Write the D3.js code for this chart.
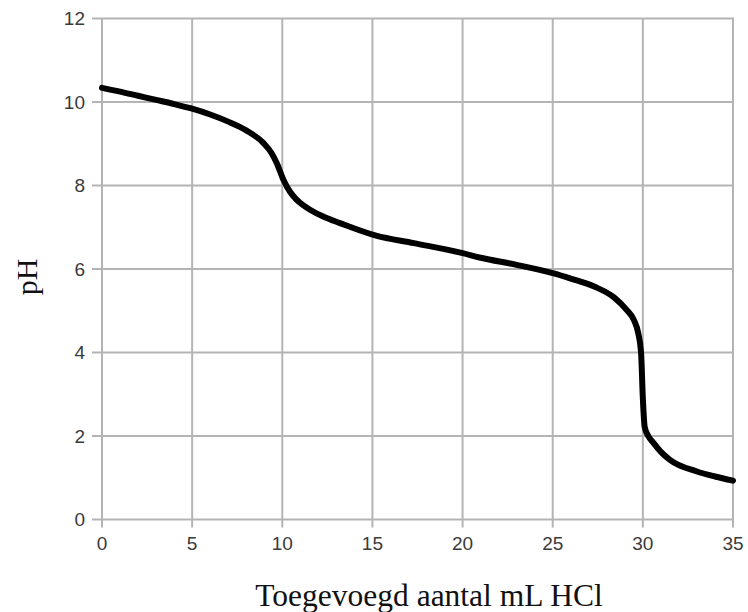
<!DOCTYPE html>
<html>
<head>
<meta charset="utf-8">
<script src="https://cdn.jsdelivr.net/npm/d3@7"></script>
<style>
  html, body { margin: 0; padding: 0; background: #fff; }
  svg { display: block; }
</style>
</head>
<body>
<svg id="chart" width="748" height="612"></svg>
<script>
// Titration curve data (mL HCl added vs pH)
const volumeML = [0, 1, 2, 3, 4, 5, 6, 7, 8, 8.95, 9.4, 9.69, 10.06, 10.43, 10.75, 11, 11.54, 12.3, 13.2, 15.2, 17.3, 20, 21, 23, 25, 26, 27.3, 28.4, 29.1, 29.5, 29.75, 29.9, 30, 30.1, 30.3, 30.6, 31, 31.5, 33, 34, 35];
const pHValues = [10.34, 10.25, 10.15, 10.05, 9.95, 9.84, 9.7, 9.53, 9.32, 9.02, 8.78, 8.54, 8.14, 7.85, 7.68, 7.58, 7.42, 7.25, 7.1, 6.8, 6.62, 6.38, 6.27, 6.1, 5.9, 5.77, 5.58, 5.32, 5.02, 4.78, 4.45, 4.0, 2.9, 2.22, 2.0, 1.83, 1.62, 1.43, 1.15, 1.03, 0.93];
const xTicks = [0, 5, 10, 15, 20, 25, 30, 35];
const yTicks = [0, 2, 4, 6, 8, 10, 12];
const xTitle = "Toegevoegd aantal mL HCl";
const yTitle = "pH";

const data = volumeML.map((v, i) => ({ x: v, y: pHValues[i] }));

const svg = d3.select("#chart");
const mLeft = 102, mRight = 733, mTop = 18.5, mBottom = 519.5;

const x = d3.scaleLinear().domain([0, 35]).range([mLeft, mRight]);
const y = d3.scaleLinear().domain([0, 12]).range([mBottom, mTop]);

const gridColor = "#b4b4b4";

// Grid
const g = svg.append("g");
g.append("g").selectAll("line").data(xTicks).join("line")
  .attr("x1", d => x(d)).attr("x2", d => x(d))
  .attr("y1", y(12)).attr("y2", mBottom + 8)
  .attr("stroke", gridColor).attr("stroke-width", 2);
g.append("g").selectAll("line").data(yTicks).join("line")
  .attr("x1", mLeft - 10).attr("x2", x(35) + 1)
  .attr("y1", d => y(d)).attr("y2", d => y(d))
  .attr("stroke", gridColor).attr("stroke-width", 2);

// Tick labels
svg.append("g").selectAll("text").data(xTicks).join("text")
  .attr("x", d => x(d)).attr("y", 549.5)
  .attr("text-anchor", "middle")
  .attr("font-family", "Liberation Sans, Arial, sans-serif")
  .attr("font-size", 19)
  .attr("fill", "#3a3a3a")
  .text(d => d);

svg.append("g").selectAll("text").data(yTicks).join("text")
  .attr("x", 85).attr("y", d => y(d))
  .attr("dy", "0.36em")
  .attr("text-anchor", "end")
  .attr("font-family", "Liberation Sans, Arial, sans-serif")
  .attr("font-size", 19)
  .attr("fill", "#3a3a3a")
  .text(d => d);

// Curve
const line = d3.line().x(d => x(d.x)).y(d => y(d.y)).curve(d3.curveMonotoneX);
svg.append("path").datum(data)
  .attr("d", line)
  .attr("fill", "none")
  .attr("stroke", "#000")
  .attr("stroke-width", 6)
  .attr("stroke-linecap", "round")
  .attr("stroke-linejoin", "round");

// Axis titles
svg.append("text")
  .attr("x", 429).attr("y", 606)
  .attr("text-anchor", "middle")
  .attr("font-family", "Liberation Serif, Times New Roman, serif")
  .attr("font-size", 31.5)
  .attr("fill", "#111")
  .text(xTitle);

svg.append("text")
  .attr("transform", "translate(37,277) rotate(-90)")
  .attr("text-anchor", "middle")
  .attr("font-family", "Liberation Serif, Times New Roman, serif")
  .attr("font-size", 30)
  .attr("fill", "#111")
  .text(yTitle);
</script>
</body>
</html>
